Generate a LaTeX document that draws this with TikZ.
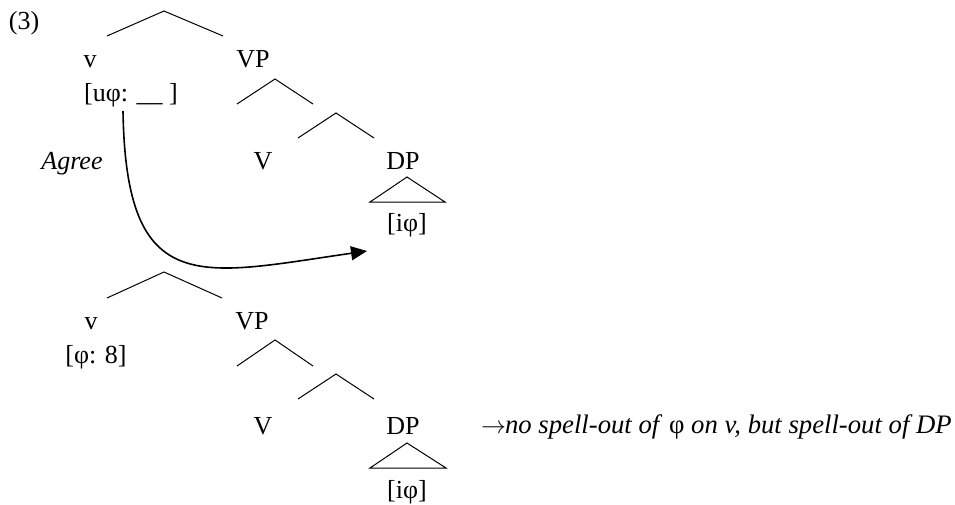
\documentclass[tikz,border=0pt]{standalone}
\usepackage{fontspec}
\setmainfont{Liberation Serif}
\usetikzlibrary{arrows.meta}
\begin{document}
\begin{tikzpicture}[x=1pt,y=-1pt,
  lbl/.style={inner sep=0pt, anchor=base, font=\fontsize{26}{30}\selectfont},
  branch/.style={line width=1pt},
  agreearrow/.style={line width=1.6pt, -{Triangle[length=16pt,width=14pt]}}]
\useasboundingbox (0,0) rectangle (955,505);
% example number
\node[lbl] (num) at (24,30) {(3)};
% ---------- upper tree ----------
\coordinate (r1) at (164,11);
\coordinate (r1l) at (107,36);
\coordinate (r1r) at (223,36);
\draw[branch] (r1l) -- (r1) -- (r1r);
\node[lbl] (v1) at (90,68) {v};
\node[lbl] (vp1) at (253,68) {VP};
\node[lbl] (feat1) at (131,102) {[uφ: \_\_ ]};
\coordinate (a1) at (275,79);
\coordinate (a1l) at (237,104);
\coordinate (a1r) at (313,104);
\draw[branch] (a1l) -- (a1) -- (a1r);
\coordinate (b1) at (336,113);
\coordinate (b1l) at (298,138);
\coordinate (b1r) at (374,138);
\draw[branch] (b1l) -- (b1) -- (b1r);
\node[lbl, font=\fontsize{26}{30}\selectfont\itshape] (agree) at (72,170) {Agree};
\node[lbl] (V1) at (263,170) {V};
\node[lbl] (dp1) at (403,170) {DP};
\coordinate (t1) at (407,177);
\coordinate (t1l) at (370,202);
\coordinate (t1r) at (445,202);
\draw[branch] (t1) -- (t1l) -- (t1r) -- cycle;
\node[lbl] (if1) at (407,231) {[iφ]};
% Agree arrow
\coordinate (agS) at (123,111);
\coordinate (agE) at (367,251);
\draw[agreearrow] (agS) .. controls (126,300) and (200,275) .. (agE);
% ---------- lower tree ----------
\coordinate (r2) at (164,272);
\coordinate (r2l) at (107,298);
\coordinate (r2r) at (222,298);
\draw[branch] (r2l) -- (r2) -- (r2r);
\node[lbl] (v2) at (91,329) {v};
\node[lbl] (vp2) at (252,329) {VP};
\node[lbl] (feat2) at (96,363) {[φ: 8]};
\coordinate (a2) at (275,340);
\coordinate (a2l) at (237,366);
\coordinate (a2r) at (313,366);
\draw[branch] (a2l) -- (a2) -- (a2r);
\coordinate (b2) at (336,374);
\coordinate (b2l) at (298,399);
\coordinate (b2r) at (374,399);
\draw[branch] (b2l) -- (b2) -- (b2r);
\node[lbl] (V2) at (263,434) {V};
\node[lbl] (dp2) at (403,434) {DP};
\coordinate (t2) at (407,443);
\coordinate (t2l) at (370,468);
\coordinate (t2r) at (446,468);
\draw[branch] (t2) -- (t2l) -- (t2r) -- cycle;
\node[lbl] (if2) at (407,498) {[iφ]};
\node[lbl, anchor=base west, font=\fontsize{26.7}{30}\selectfont] (note) at (481,433) {$\rightarrow$\kern-1pt\textit{no spell-out of }φ\textit{ on v, but spell-out of DP}};
\end{tikzpicture}
\end{document}
